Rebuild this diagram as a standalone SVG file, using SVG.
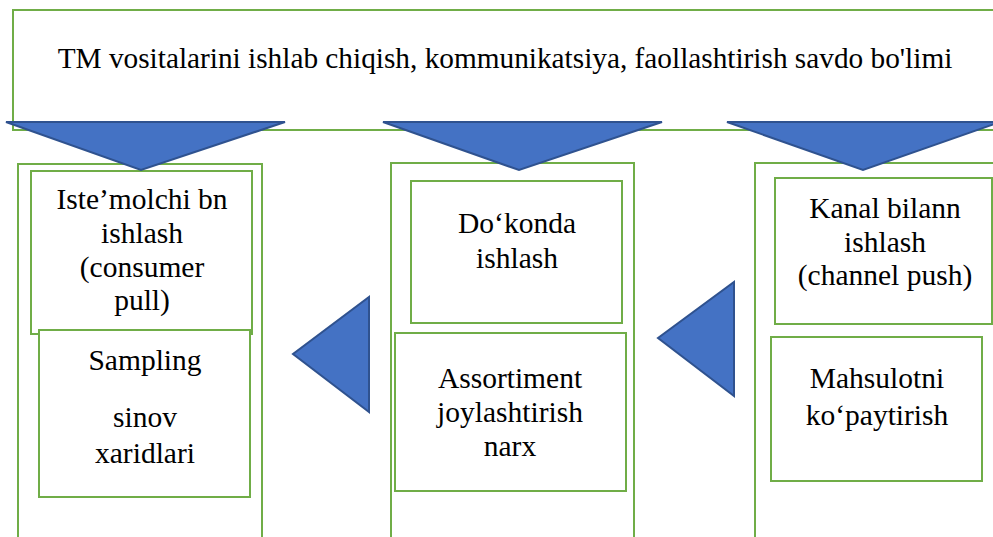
<svg xmlns="http://www.w3.org/2000/svg" width="993" height="537" viewBox="0 0 993 537">
<style>
.box{fill:#fff;stroke:#70AD47;stroke-width:2}
.tri{fill:#4472C4;stroke:#2F528F;stroke-width:2}
</style>
<rect width="993" height="537" fill="#fff"/>
<g id="top"><rect class="box" x="13" y="10" width="990" height="120"/></g>
<g id="col1-boxes"><rect class="box" x="18" y="164" width="244" height="390"/><rect class="box" x="31" y="171" width="221" height="163"/><rect class="box" x="39" y="330" width="211" height="167"/></g>
<g id="col2-boxes"><rect class="box" x="391" y="163" width="243" height="390"/><rect class="box" x="411" y="181" width="211" height="142"/><rect class="box" x="395" y="333" width="231" height="158"/></g>
<g id="col3-boxes"><rect class="box" x="755" y="163" width="260" height="390"/><rect class="box" x="775" y="178" width="217" height="146"/><rect class="box" x="771" y="337" width="211" height="144"/></g>
<g id="labels" font-family="Liberation Serif, serif" font-size="29.5" text-anchor="middle" fill="#000">
<text x="505" y="68" font-size="29.3">TM vositalarini ishlab chiqish, kommunikatsiya, faollashtirish savdo bo'limi</text>
<text x="142" y="209">Iste’molchi bn</text>
<text x="142" y="243">ishlash</text>
<text x="142" y="277">(consumer</text>
<text x="142" y="310">pull)</text>
<text x="145" y="370">Sampling</text>
<text x="145" y="427">sinov</text>
<text x="145" y="463">xaridlari</text>
<text x="517" y="233">Do‘konda</text>
<text x="517" y="268">ishlash</text>
<text x="510" y="388">Assortiment</text>
<text x="510" y="422">joylashtirish</text>
<text x="510" y="456">narx</text>
<text x="885" y="218">Kanal bilann</text>
<text x="885" y="252">ishlash</text>
<text x="885" y="285">(channel push)</text>
<text x="877" y="388">Mahsulotni</text>
<text x="877" y="425">ko‘paytirish</text>
</g>
<g id="connectors">
<polygon class="tri" points="6,122 285,122 141,170"/>
<polygon class="tri" points="383,122 662,122 519,170"/>
<polygon class="tri" points="727,122 1000,122 863,170"/>
<polygon class="tri" points="369,297 369,412 293,354"/>
<polygon class="tri" points="734,282 734,396 658,338"/>
</g>
</svg>
